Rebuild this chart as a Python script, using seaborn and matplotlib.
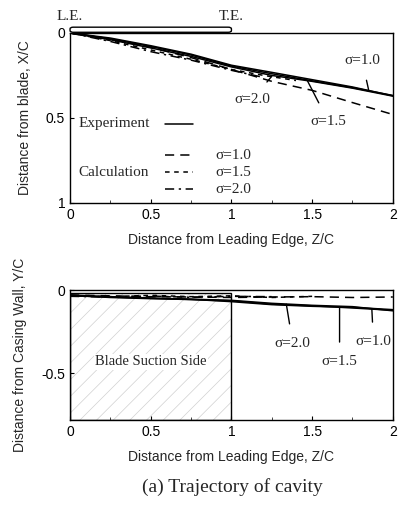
import numpy as np
import pandas as pd
import matplotlib
matplotlib.use("Agg")
import matplotlib.pyplot as plt
import seaborn as sns
from matplotlib.patches import FancyBboxPatch, Rectangle

# ---------------- data ----------------
# Top panel: distance from blade X/C vs Z/C
top_exp_x = [0, 0.25, 0.5, 0.75, 1.0, 1.25, 1.5, 1.75, 2.0]
top_exp_s10 = [0, 0.030, 0.075, 0.125, 0.190, 0.232, 0.275, 0.318, 0.370]
top_exp_s15 = [0, 0.035, 0.080, 0.130, 0.195, 0.240, 0.282, 0.322, 0.368]
top_exp_s20 = [0, 0.040, 0.088, 0.138, 0.200, 0.250, 0.285, 0.325, 0.372]

top_calc10_x = [0, 0.25, 0.5, 0.75, 1.0, 1.25, 1.5, 1.75, 2.0]
top_calc10_y = [0, 0.035, 0.085, 0.145, 0.215, 0.285, 0.338, 0.410, 0.480]
top_calc15_x = [0, 0.25, 0.5, 0.75, 1.0, 1.2, 1.4]
top_calc15_y = [0, 0.045, 0.100, 0.155, 0.215, 0.250, 0.280]
top_calc20_x = [0, 0.25, 0.5, 0.75, 1.0, 1.2]
top_calc20_y = [0, 0.050, 0.110, 0.160, 0.220, 0.262]

# Bottom panel: distance from casing wall Y/C vs Z/C
bot_exp_x = [0, 0.25, 0.5, 0.75, 1.0, 1.25, 1.5, 1.75, 2.0]
bot_exp_s10 = [-0.030, -0.040, -0.048, -0.055, -0.062, -0.080, -0.092, -0.100, -0.125]
bot_exp_s15 = [-0.035, -0.042, -0.050, -0.058, -0.065, -0.085, -0.095, -0.108, -0.122]
bot_exp_s20 = [-0.032, -0.045, -0.052, -0.056, -0.070, -0.088, -0.098, -0.104, -0.118]

bot_calc10_x = [0, 0.25, 0.5, 0.75, 1.0, 1.25, 1.5, 1.75, 2.0]
bot_calc10_y = [-0.030, -0.035, -0.040, -0.042, -0.045, -0.042, -0.040, -0.045, -0.042]
bot_calc15_x = [0, 0.25, 0.5, 0.75, 1.0, 1.25, 1.5]
bot_calc15_y = [-0.035, -0.040, -0.032, -0.040, -0.035, -0.045, -0.038]
bot_calc20_x = [0, 0.25, 0.5, 0.75, 1.0, 1.25]
bot_calc20_y = [-0.038, -0.042, -0.036, -0.044, -0.038, -0.040]

x_ticks = [0, 0.5, 1, 1.5, 2]
x_tick_labels = ["0", "0.5", "1", "1.5", "2"]
top_y_ticks = [0, 0.5, 1]
top_y_tick_labels = ["0", "0.5", "1"]
bot_y_ticks = [0, -0.5]
bot_y_tick_labels = ["0", "-0.5"]

# ---------------- style ----------------
sns.set_theme(style="ticks")
plt.rcParams["font.family"] = ["Liberation Sans", "DejaVu Sans"]
plt.rcParams["hatch.color"] = "#d0d0d0"
plt.rcParams["hatch.linewidth"] = 0.5
SERIF = ["Liberation Serif", "DejaVu Serif"]

fig = plt.figure(figsize=(3.98, 5.07), dpi=100)
ax1 = fig.add_axes([0.176, 0.600, 0.811, 0.335])
ax2 = fig.add_axes([0.176, 0.172, 0.811, 0.256])

def frame(ax):
    for s in ax.spines.values():
        s.set_visible(True)
        s.set_linewidth(1.0)
        s.set_color("black")
    ax.tick_params(direction="in", length=3, width=0.8, labelsize=10, colors="black")
    ax.set_xticks(x_ticks)
    ax.set_xticklabels(x_tick_labels)
    ax.set_xticks([0.25, 0.75, 1.25, 1.75], minor=True)
    ax.tick_params(which="minor", direction="in", length=2, width=0.6)
    ax.set_facecolor("white")

lw = 1.1
def line(ax, x, y, ls):
    df = pd.DataFrame({"x": x, "y": y})
    sns.lineplot(data=df, x="x", y="y", ax=ax, color="black", linewidth=lw,
                 linestyle=ls, estimator=None, sort=False, legend=False)

arrow = dict(arrowstyle="-", lw=1.0, color="black", shrinkA=7, shrinkB=0)
ann = dict(fontsize=11, family=SERIF, ha="center", va="center")

# ---------------- top panel ----------------
for ys in (top_exp_s10, top_exp_s15, top_exp_s20):
    line(ax1, top_exp_x, ys, "-")
line(ax1, top_calc10_x, top_calc10_y, (0, (6, 4)))
line(ax1, top_calc15_x, top_calc15_y, (0, (3, 3)))
line(ax1, top_calc20_x, top_calc20_y, (0, (6, 3, 1.5, 3)))

ax1.set_xlim(0, 2)
ax1.set_ylim(1, 0)
ax1.set_yticks(top_y_ticks)
ax1.set_yticklabels(top_y_tick_labels)
frame(ax1)
ax1.set_xlabel("Distance from Leading Edge, Z/C", fontsize=10, labelpad=8)
ax1.set_ylabel("Distance from blade, X/C", fontsize=10, labelpad=10)

# blade bar above the axes
blade = FancyBboxPatch((0, -0.034), 1.0, 0.030, boxstyle="round,pad=0,rounding_size=0.02",
                       transform=ax1.transData, clip_on=False, facecolor="white",
                       edgecolor="black", linewidth=1.0, mutation_aspect=0.5)
ax1.add_patch(blade)
ax1.text(0, -0.06, "L.E.", fontsize=11, family=SERIF, ha="center", va="bottom")
ax1.text(1, -0.06, "T.E.", fontsize=11, family=SERIF, ha="center", va="bottom")

# legend (drawn manually)
ax1.text(0.05, 0.535, "Experiment", fontsize=11, family=SERIF, va="center")
ax1.plot([0.59, 0.76], [0.535, 0.535], color="black", lw=lw, ls="-")
ax1.text(0.05, 0.82, "Calculation", fontsize=11, family=SERIF, va="center")
leg = [(0.72, (0, (6, 4)), "σ=1.0"), (0.82, (0, (3, 3)), "σ=1.5"), (0.92, (0, (6, 3, 1.5, 3)), "σ=2.0")]
for yy, ls, lab in leg:
    ax1.plot([0.59, 0.76], [yy, yy], color="black", lw=lw, ls=ls)
    ax1.text(0.90, yy, lab, fontsize=11, family=SERIF, va="center")

# annotations
ax1.annotate("σ=1.0", xy=(1.85, 0.335), xytext=(1.81, 0.165), arrowprops=arrow, **ann)
ax1.annotate("σ=2.0", xy=(1.25, 0.255), xytext=(1.13, 0.39), arrowprops=arrow, **ann)
ax1.annotate("σ=1.5", xy=(1.47, 0.28), xytext=(1.60, 0.52), arrowprops=arrow, **ann)

# ---------------- bottom panel ----------------
hatch_rect = Rectangle((0, -0.78), 1.0, 0.76, facecolor="white", edgecolor="#d0d0d0",
                       linewidth=0, hatch="//", zorder=0)
ax2.add_patch(hatch_rect)
ax2.add_patch(Rectangle((0, -0.78), 1.0, 0.76, facecolor="none", edgecolor="black",
                        linewidth=1.0, zorder=1))

for ys in (bot_exp_s10, bot_exp_s15, bot_exp_s20):
    line(ax2, bot_exp_x, ys, "-")
line(ax2, bot_calc10_x, bot_calc10_y, (0, (6, 4)))
line(ax2, bot_calc15_x, bot_calc15_y, (0, (3, 3)))
line(ax2, bot_calc20_x, bot_calc20_y, (0, (6, 3, 1.5, 3)))

ax2.set_xlim(0, 2)
ax2.set_ylim(-0.78, 0)
ax2.set_yticks(bot_y_ticks)
ax2.set_yticklabels(bot_y_tick_labels)
frame(ax2)
ax2.set_xlabel("Distance from Leading Edge, Z/C", fontsize=10, labelpad=8)
ax2.set_ylabel("Distance from Casing Wall, Y/C", fontsize=10, labelpad=10)

ax2.text(0.5, -0.43, "Blade Suction Side", fontsize=10.5, family=SERIF, ha="center", va="center",
         bbox=dict(facecolor="white", edgecolor="none", pad=1.0))

ax2.annotate("σ=2.0", xy=(1.34, -0.085), xytext=(1.38, -0.32), arrowprops=arrow, **ann)
ax2.annotate("σ=1.5", xy=(1.67, -0.10), xytext=(1.67, -0.43), arrowprops=arrow, **ann)
ax2.annotate("σ=1.0", xy=(1.87, -0.115), xytext=(1.88, -0.31), arrowprops=arrow, **ann)

fig.text(0.585, 0.04, "(a) Trajectory of cavity", fontsize=14, family=SERIF, ha="center", va="center")

fig.savefig("out.png", dpi=100, facecolor="white")
